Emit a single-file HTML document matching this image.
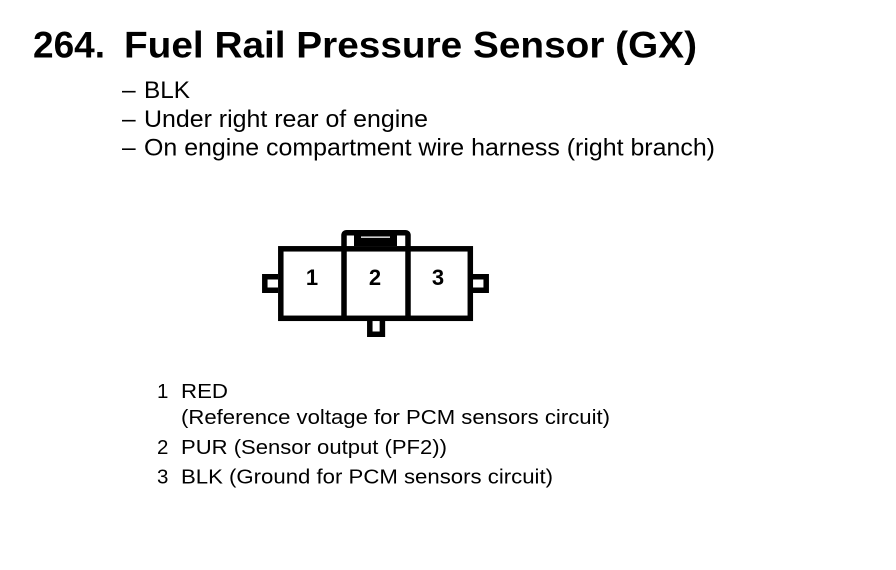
<!DOCTYPE html>
<html>
<head>
<meta charset="utf-8">
<style>
html,body{margin:0;padding:0;background:#fff;width:896px;height:570px;overflow:hidden}
svg{display:block}
text{font-family:"Liberation Sans",Arial,sans-serif;fill:#000}
.t{font-size:37px;font-weight:700}
.s{font-size:24.5px}
.l{font-size:20.5px}
.n{font-size:22px;font-weight:700;text-anchor:middle}
</style>
</head>
<body>
<svg width="896" height="570" viewBox="0 0 896 570" xmlns="http://www.w3.org/2000/svg">
<rect width="896" height="570" fill="#fff"/>
<text class="t" x="33" y="57.5" textLength="72" lengthAdjust="spacingAndGlyphs">264.</text>
<text class="t" x="124" y="57.5" textLength="573" lengthAdjust="spacingAndGlyphs">Fuel Rail Pressure Sensor (GX)</text>
<text class="s" x="122" y="98">–</text>
<text class="s" x="144" y="98" textLength="46" lengthAdjust="spacingAndGlyphs">BLK</text>
<text class="s" x="122" y="127">–</text>
<text class="s" x="144" y="127" textLength="284" lengthAdjust="spacingAndGlyphs">Under right rear of engine</text>
<text class="s" x="122" y="155.5">–</text>
<text class="s" x="144" y="155.5" textLength="571" lengthAdjust="spacingAndGlyphs">On engine compartment wire harness (right branch)</text>

<g fill="none" stroke="#000" stroke-width="5.5">
<rect x="280.8" y="248.8" width="189.5" height="69.5"/>
<path d="M344 248V235.5Q344 232.8 346.7 232.8H405.3Q408 232.8 408 235.5V248"/>
<line x1="344" y1="248" x2="344" y2="318"/>
<line x1="408" y1="248" x2="408" y2="318"/>
<path d="M278 276.8H264.8V290.2H278"/>
<path d="M473 276.8H486.2V290.2H473"/>
<path d="M369.8 320V334.2H382.4V320"/>
</g>
<rect x="354" y="235" width="43" height="11" fill="#000"/>
<rect x="361" y="236.5" width="29" height="1.3" fill="#fff"/>
<text class="n" x="312" y="285">1</text>
<text class="n" x="375" y="285">2</text>
<text class="n" x="438" y="285">3</text>

<text class="l" x="157" y="398">1</text>
<text class="l" x="181" y="398" textLength="47" lengthAdjust="spacingAndGlyphs">RED</text>
<text class="l" x="181" y="424" textLength="429" lengthAdjust="spacingAndGlyphs">(Reference voltage for PCM sensors circuit)</text>
<text class="l" x="157" y="454">2</text>
<text class="l" x="181" y="454" textLength="266" lengthAdjust="spacingAndGlyphs">PUR (Sensor output (PF2))</text>
<text class="l" x="157" y="483.5">3</text>
<text class="l" x="181" y="483.5" textLength="372" lengthAdjust="spacingAndGlyphs">BLK (Ground for PCM sensors circuit)</text>
</svg>
</body>
</html>
